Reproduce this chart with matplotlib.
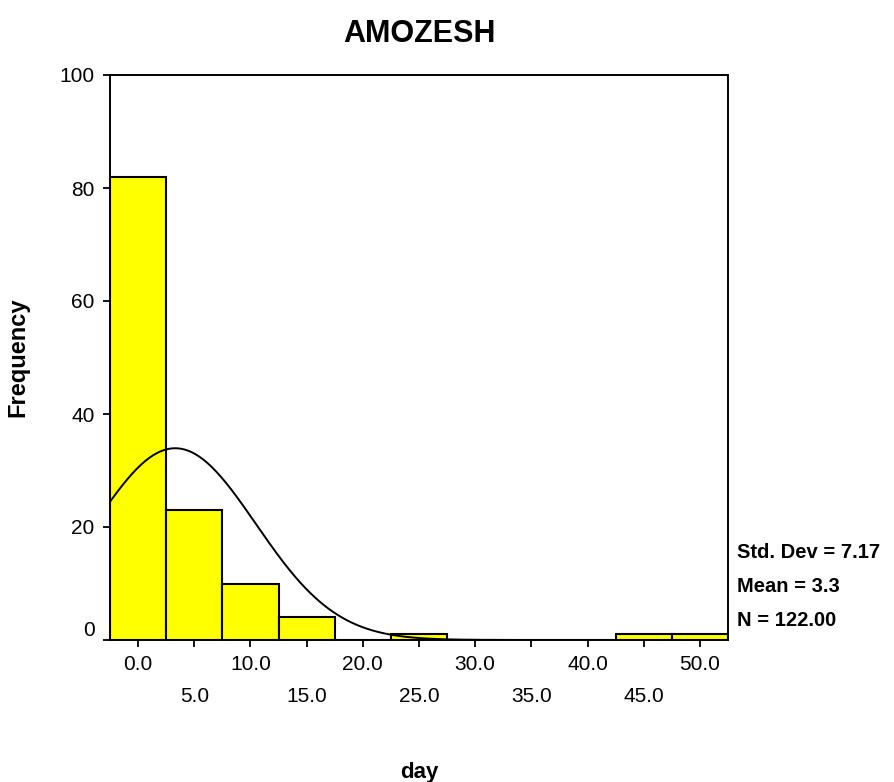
import numpy as np
import matplotlib
matplotlib.use("Agg")
import matplotlib.pyplot as plt
import matplotlib.transforms as mtransforms

plt.rcParams['font.family'] = ['Liberation Sans', 'DejaVu Sans']

# histogram of "day" (bin width 5)
bin_centers = [0, 5, 10, 15, 20, 25, 30, 35, 40, 45, 50]
frequencies = [82, 23, 10, 4, 0, 1, 0, 0, 0, 1, 1]
std_dev = 7.17
mean = 3.3
n = 122
bin_width = 5

major_ticks = [0, 10, 20, 30, 40, 50]
minor_ticks = [5, 15, 25, 35, 45]
y_ticks = [0, 20, 40, 60, 80, 100]

fig = plt.figure(figsize=(8.94, 7.82), dpi=100)
ax = fig.add_axes([110 / 894, 142 / 782, 618 / 894, 565 / 782])

ax.bar(bin_centers, frequencies, width=bin_width, color='#ffff00',
       edgecolor='black', linewidth=1.5, zorder=2)

# normal curve from the reported stats
xs = np.linspace(-2.5, 52.5, 400)
ys = n * bin_width / (std_dev * np.sqrt(2 * np.pi)) * np.exp(-0.5 * ((xs - mean) / std_dev) ** 2)
ax.plot(xs, ys, color='black', linewidth=1.4, zorder=3)

ax.set_xlim(-2.5, 52.5)
ax.set_ylim(0, 100)

for sp in ax.spines.values():
    sp.set_linewidth(1.4)

ax.set_yticks(y_ticks)
ax.set_yticklabels([str(v) for v in y_ticks])
ax.set_xticks(major_ticks)
ax.set_xticklabels([f"{v:.1f}" for v in major_ticks])
ax.set_xticks(minor_ticks, minor=True)
ax.set_xticklabels([f"{v:.1f}" for v in minor_ticks], minor=True)

ax.tick_params(axis='y', which='major', length=5, width=1.3, pad=6, labelsize=15)
ax.tick_params(axis='x', which='major', length=5, width=1.3, pad=6, labelsize=15)
ax.tick_params(axis='x', which='minor', length=5, width=1.3, pad=29, labelsize=15)

# SPSS puts the "0" label a bit above its tick
zero_lbl = ax.get_yticklabels()[0]
zero_lbl.set_transform(zero_lbl.get_transform() +
                       mtransforms.ScaledTranslation(0, 8 / 72, fig.dpi_scale_trans))

ax.set_title("AMOZESH", fontsize=22, fontweight='bold', pad=24)
ax.set_ylabel("Frequency", fontsize=17, fontweight='bold', labelpad=22)
ax.set_xlabel("day", fontsize=16, fontweight='bold', labelpad=40)

stats = [f"Std. Dev = {std_dev:.2f}", f"Mean = {mean:.1f}", f"N = {n:.2f}"]
for i, s in enumerate(stats):
    fig.text(737 / 894, 1 - (553 + 34 * i) / 782, s, fontsize=14.5,
             fontweight='bold', va='center', ha='left')

fig.savefig("out.png", dpi=100)
